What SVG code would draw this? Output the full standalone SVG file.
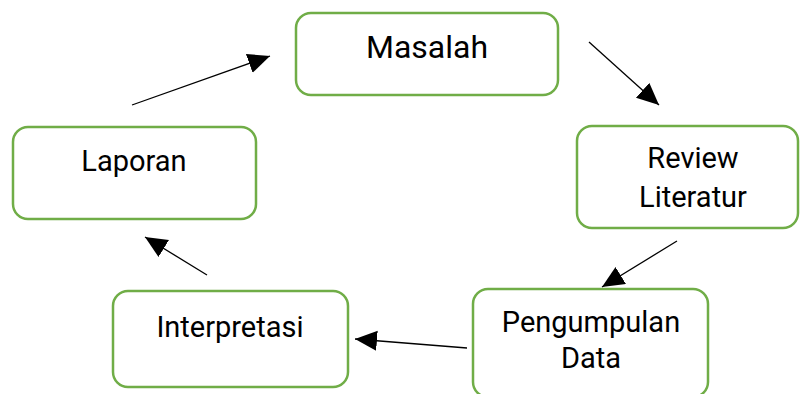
<svg xmlns="http://www.w3.org/2000/svg" width="800" height="394" viewBox="0 0 800 394">
<defs>
<style>
.box{fill:#fff;stroke:#70AD47;stroke-width:2.5}
.lbl{font-family:Roboto,"Liberation Sans",sans-serif;font-size:29px;fill:#000;text-anchor:middle}
.big{font-size:32px}
.edge{stroke:#000;stroke-width:1.3;fill:none}
</style>
<marker id="ah" markerUnits="userSpaceOnUse" markerWidth="24" markerHeight="22" refX="22" refY="10" orient="auto">
<path d="M0,0 L22,10 L0,20 Z" fill="#000"/>
</marker>
</defs>
<rect width="800" height="394" fill="#fff"/>
<g id="masalah"><rect class="box" x="296" y="13" width="262" height="82" rx="15"/><text class="lbl big" x="427" y="58">Masalah</text></g>
<g id="review"><rect class="box" x="577" y="126" width="221" height="102" rx="15"/><text class="lbl" x="693" y="168">Review</text><text class="lbl" x="693" y="207">Literatur</text></g>
<g id="pengumpulan"><rect class="box" x="473" y="289" width="235" height="108" rx="15"/><text class="lbl" x="591" y="332">Pengumpulan</text><text class="lbl" x="591" y="368">Data</text></g>
<g id="interpretasi"><rect class="box" x="113" y="291" width="235" height="96" rx="15"/><text class="lbl" x="230" y="337">Interpretasi</text></g>
<g id="laporan"><rect class="box" x="13" y="127" width="243" height="92" rx="15"/><text class="lbl" x="134" y="171">Laporan</text></g>
<g id="connectors">
<line class="edge" x1="132" y1="105" x2="270" y2="56" marker-end="url(#ah)"/>
<line class="edge" x1="589" y1="42" x2="659" y2="105" marker-end="url(#ah)"/>
<line class="edge" x1="677" y1="241" x2="602" y2="287" marker-end="url(#ah)"/>
<line class="edge" x1="467" y1="348" x2="355" y2="339" marker-end="url(#ah)"/>
<line class="edge" x1="207" y1="275" x2="145" y2="237" marker-end="url(#ah)"/>
</g>
</svg>
